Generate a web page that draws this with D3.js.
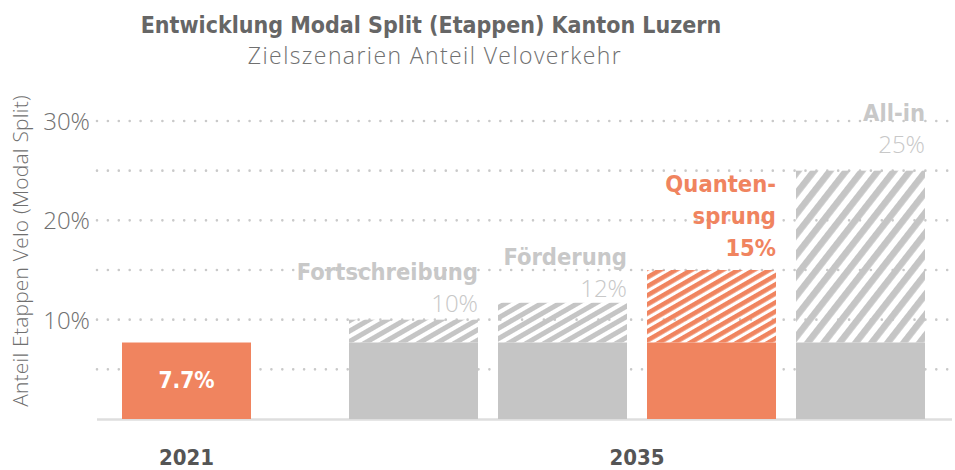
<!DOCTYPE html>
<html>
<head>
<meta charset="utf-8">
<script src="https://cdn.jsdelivr.net/npm/d3@7"></script>
<style>
  body { margin: 0; background: #fff; }
  svg { display: block; }
  .bold { font-family: "DejaVu Sans Condensed", "DejaVu Sans", sans-serif; font-weight: bold; }
  .light { font-family: "Open Sans", sans-serif; font-weight: 300; }
</style>
</head>
<body>
<div id="chart"></div>
<script>
// data
const scenarios = ["2021", "Fortschreibung", "Förderung", "Quantensprung", "All-in"];
const baseValues = [7.7, 7.7, 7.7, 7.7, 7.7];
const totalValues = [7.7, 10, 11.7, 15, 25];
const valueLabels = ["7.7%", "10%", "12%", "15%", "25%"];
const nameLines = [[], ["Fortschreibung"], ["Förderung"], ["Quanten-", "sprung"], ["All-in"]];
const years = ["2021", "2035"];
const yTicks = [10, 20, 30];
const gridTicks = [5, 10, 15, 20, 25, 30];

// styles per scenario
const orange = "#f0845f", gray = "#c5c5c5", labelGray = "#c8c8c8";
const look = {
  "2021":          {fill: orange},
  "Fortschreibung":{fill: gray,   angle: 30, period: 9,   stripe: 5,   gap: 8},
  "Förderung":     {fill: gray,   angle: 30, period: 9,   stripe: 5,   gap: 6},
  "Quantensprung": {fill: orange, angle: 30, period: 7.8, stripe: 4.6, gap: 14, labelColor: orange},
  "All-in":        {fill: gray,   angle: 52, period: 12.6,stripe: 6.6, gap: 18}
};

const W = 955, H = 470;
const svg = d3.select("#chart").append("svg").attr("width", W).attr("height", H);

const y = d3.scaleLinear().domain([0, 30]).range([419, 121]);

// the four 2035 scenarios share one band scale, 2021 sits further left
const x = d3.scaleBand()
  .domain(scenarios.slice(1))
  .range([339, 935])
  .paddingInner(20 / 149)
  .paddingOuter(10 / 149);
const xPos = s => s === "2021" ? x("Fortschreibung") - 227 : x(s);

// hatch patterns
const defs = svg.append("defs");
scenarios.forEach((s, i) => {
  const l = look[s];
  if (!l.angle) return;
  const p = defs.append("pattern")
    .attr("id", "hatch" + i)
    .attr("patternUnits", "userSpaceOnUse")
    .attr("width", l.period).attr("height", 20)
    .attr("patternTransform", "rotate(" + (90 - l.angle) + ")");
  p.append("rect").attr("width", l.stripe).attr("height", 20).attr("fill", l.fill);
});

// gridlines (dotted)
svg.append("g").selectAll("line")
  .data(gridTicks)
  .join("line")
    .attr("x1", 97).attr("x2", 952)
    .attr("y1", d => y(d)).attr("y2", d => y(d))
    .attr("stroke", "#c9c9c9")
    .attr("stroke-width", 2.6)
    .attr("stroke-linecap", "round")
    .attr("stroke-dasharray", "0 10.9");

// baseline
svg.append("line")
  .attr("x1", 97).attr("x2", 952)
  .attr("y1", y(0) + 0.5).attr("y2", y(0) + 0.5)
  .attr("stroke", "#dedede").attr("stroke-width", 2.5);

// y axis
const yAxis = svg.append("g")
  .attr("transform", "translate(90,0)")
  .call(d3.axisLeft(y).tickValues(yTicks).tickSize(0).tickPadding(0).tickFormat(d => d + "%"));
yAxis.select(".domain").remove();
yAxis.selectAll(".tick text")
  .attr("class", "light")
  .attr("font-size", 24)
  .attr("fill", "#707070")
  .attr("dy", "0.36em");

svg.append("text")
  .attr("class", "light")
  .attr("transform", "translate(28,251) rotate(-90)")
  .attr("text-anchor", "middle")
  .attr("font-size", 21)
  .attr("letter-spacing", 0.2)
  .attr("fill", "#707070")
  .text("Anteil Etappen Velo (Modal Split)");

// bars: solid base + hatched increment
const bars = svg.append("g").selectAll("g")
  .data(scenarios.map((s, i) => ({s, i, base: baseValues[i], total: totalValues[i]})))
  .join("g");

bars.append("rect")
  .attr("x", d => xPos(d.s))
  .attr("width", x.bandwidth())
  .attr("y", d => y(d.base))
  .attr("height", d => y(0) - y(d.base))
  .attr("fill", d => look[d.s].fill);

bars.filter(d => d.total > d.base).append("rect")
  .attr("x", d => xPos(d.s))
  .attr("width", x.bandwidth())
  .attr("y", d => y(d.total))
  .attr("height", d => y(d.base) - y(d.total))
  .attr("fill", d => "url(#hatch" + d.i + ")");

// 2021 value inside the bar
svg.append("text")
  .attr("class", "bold")
  .attr("x", xPos("2021") + x.bandwidth() / 2)
  .attr("y", 388)
  .attr("text-anchor", "middle")
  .attr("font-size", 22.5)
  .attr("fill", "#fff")
  .text(valueLabels[0]);

// scenario labels above bars
const lineH = 32;
scenarios.forEach((s, i) => {
  if (i === 0) return;
  const l = look[s];
  const col = l.labelColor || labelGray;
  const right = xPos(s) + x.bandwidth();
  const last = y(totalValues[i]) - l.gap;
  const lines = nameLines[i];
  const g = svg.append("g").attr("text-anchor", "end").attr("fill", col);
  lines.forEach((t, k) => {
    g.append("text")
      .attr("class", "bold")
      .attr("font-size", 23.5)
      .attr("x", right)
      .attr("y", last - (lines.length - k) * lineH)
      .text(t);
  });
  g.append("text")
    .attr("class", l.labelColor ? "bold" : "light")
    .attr("font-size", l.labelColor ? 23.5 : 24)
    .attr("x", right)
    .attr("y", last)
    .text(valueLabels[i]);
});

// year labels
const yearX = [xPos("2021") + x.bandwidth() / 2, (x.range()[0] + x.range()[1]) / 2];
svg.append("g").selectAll("text")
  .data(years)
  .join("text")
    .attr("class", "bold")
    .attr("x", (d, i) => yearX[i])
    .attr("y", 465)
    .attr("text-anchor", "middle")
    .attr("font-size", 22)
    .attr("fill", "#555")
    .text(d => d);

// titles
svg.append("text")
  .attr("class", "bold")
  .attr("x", 431).attr("y", 33)
  .attr("text-anchor", "middle")
  .attr("font-size", 23)
  .attr("fill", "#666")
  .text("Entwicklung Modal Split (Etappen) Kanton Luzern");

svg.append("text")
  .attr("class", "light")
  .attr("x", 435).attr("y", 64)
  .attr("text-anchor", "middle")
  .attr("font-size", 23)
  .attr("letter-spacing", 1.4)
  .attr("fill", "#707070")
  .text("Zielszenarien Anteil Veloverkehr");
</script>
</body>
</html>
